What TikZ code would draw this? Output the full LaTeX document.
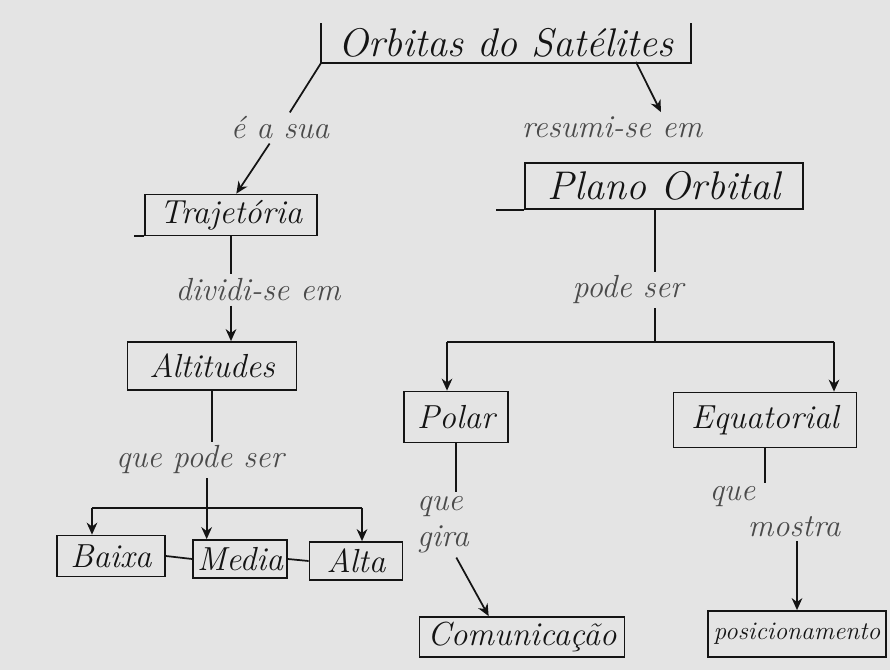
\documentclass[tikz,border=0pt]{standalone}
\usetikzlibrary{arrows.meta}
\definecolor{paper}{HTML}{E4E4E4}
\definecolor{ink}{HTML}{141414}
\definecolor{pencil}{HTML}{4A4A4A}
\begin{document}
\begin{tikzpicture}[x=0.75pt,y=-0.75pt,
  box/.style={draw=ink,line width=1.3pt,inner sep=0pt,font=\itshape\fontsize{25}{28}\selectfont,text=ink},
  lbl/.style={inner sep=3pt,font=\itshape\fontsize{24}{27}\selectfont,text=pencil},
  link/.style={draw=ink,line width=1.3pt},
  arrow/.style={link,-{Stealth[length=9pt,width=8pt]}}]
\fill[paper] (0,0) rectangle (890,670);
\useasboundingbox (0,0) rectangle (890,670);

% concept boxes (sizes in pt: 0.75 pt per unit)
\node[box,draw=none,minimum width=276pt,minimum height=28.5pt] (title) at (506,43)
  {\fontsize{30}{34}\selectfont Orbitas do Satélites};
\draw[link] (title.north west) |- (title.south east) -- (title.north east);
\node[box,minimum width=129pt,minimum height=30.75pt] (traj) at (231,215) {Trajetória};
\node[box,minimum width=208.5pt,minimum height=34.5pt] (plano) at (664,186)
  {\fontsize{30}{34}\selectfont Plano Orbital};
\node[box,minimum width=126.75pt,minimum height=36pt] (alt) at (212,366) {Altitudes};
\node[box,minimum width=81pt,minimum height=30.75pt] (baixa) at (111,556) {Baixa};
\node[box,minimum width=70.5pt,minimum height=28.5pt] (media) at (240,559) {Media};
\node[box,minimum width=69.75pt,minimum height=28.5pt] (alta) at (356,561) {Alta};
\node[box,minimum width=78pt,minimum height=38.25pt] (polar) at (456,417) {Polar};
\node[box,minimum width=137.25pt,minimum height=41.25pt] (equat) at (765,420) {Equatorial};
\node[box,minimum width=153.75pt,minimum height=30pt] (comun) at (522,637) {Comunicação};
\node[box,minimum width=133.5pt,minimum height=34.5pt] (posic) at (797,634)
  {\fontsize{19}{22}\selectfont posicionamento};

% ruled lines running past the boxes
\draw[link] (traj.south west) -- ++(-10,0);
\draw[link] (plano.south west) -- ++(-28,0);

% linking phrases
\node[lbl] (l1) at (280,128) {é a sua};
\node[lbl] (l2) at (612,127) {resumi-se em};
\node[lbl] (l3) at (258,290) {dividi-se em};
\node[lbl] (l4) at (628,290) {pode ser};
\node[lbl] (l5) at (200,460) {que pode ser};
\node[lbl,align=left] (l6) at (443,525) {que\\gira};
\node[lbl,align=left] (l7) at (775,512) {que\\\hspace*{1.2em}mostra};

% title branches
\coordinate (tr) at (636,62);
\draw[link] (title.south west) -- (l1);
\draw[arrow] (l1) -- ([xshift=4pt]traj.north);
\draw[arrow] (tr) -- (l2.north -| 661,0);

% left branch
\draw[link] (traj.south) -- (traj.south |- l3.north);
\draw[arrow] (traj.south |- l3.south) -- (traj.south |- alt.north);
\draw[link] (alt.south) -- (alt.south |- l5.north);
\coordinate (barL) at (92,508);
\coordinate (barR) at (362,508);
\draw[link] (barL) -- (barR);
\draw[arrow] ([xshift=-4pt]alt.south |- l5.south) -- ([xshift=-4pt]alt.south |- media.north);
\draw[arrow] (barL) -- (barL |- baixa.north);
\draw[arrow] (barR) -- (barR |- alta.north);
\draw[link] (baixa.east) -- (media.west);
\draw[link] (media.east) -- (alta.west);

% right branch
\coordinate (pc) at (655,0);
\draw[link] (pc |- plano.south) -- (pc |- l4.north);
\coordinate (barP) at (447,342);
\coordinate (barE) at (834,342);
\draw[link] (pc |- l4.south) -- (pc |- barP);
\draw[link] (barP) -- (barE);
\draw[arrow] (barP) -- (barP |- polar.north);
\draw[arrow] (barE) -- (barE |- equat.north);
\draw[link] (polar.south) -- (polar.south |- l6.north);
\draw[arrow] ([xshift=10pt]l6.south) -- ([xshift=-25pt]comun.north);
\draw[link] (equat.south) -- (equat.south |- l7.north);
\draw[arrow] (posic.north |- l7.south) -- (posic.north);
\end{tikzpicture}
\end{document}
